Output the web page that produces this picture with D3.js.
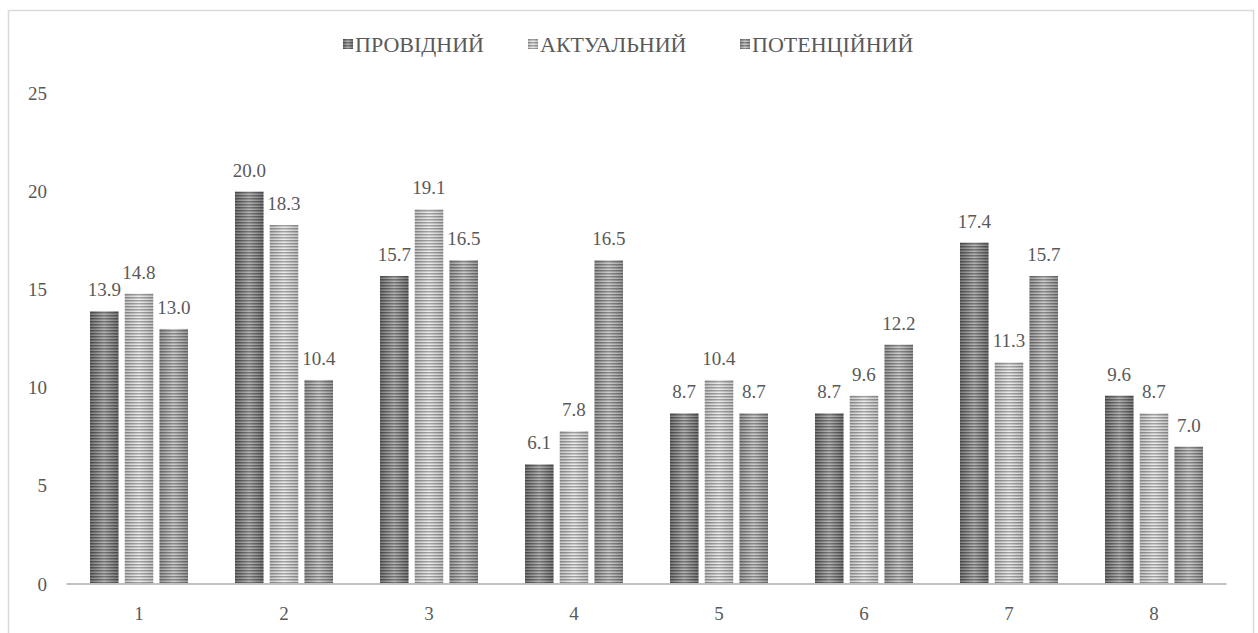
<!DOCTYPE html>
<html>
<head>
<meta charset="utf-8">
<script src="https://cdn.jsdelivr.net/npm/d3@7"></script>
<style>
  html, body { margin: 0; padding: 0; background: #fff; }
  svg { display: block; }
</style>
</head>
<body>
<svg id="chart" width="1258" height="633"></svg>
<script>
// Categories and series values
const categories = ["1", "2", "3", "4", "5", "6", "7", "8"];
const seriesNames = ["ПРОВІДНИЙ", "АКТУАЛЬНИЙ", "ПОТЕНЦІЙНИЙ"];
const providnyi    = [13.9, 20.0, 15.7, 6.1, 8.7, 8.7, 17.4, 9.6];
const aktualnyi    = [14.8, 18.3, 19.1, 7.8, 10.4, 9.6, 11.3, 8.7];
const potentsiynyi = [13.0, 10.4, 16.5, 16.5, 8.7, 12.2, 15.7, 7.0];
const yTicks = [0, 5, 10, 15, 20, 25];

const seriesValues = [providnyi, aktualnyi, potentsiynyi];
const FONT = '"Liberation Serif", monospace';
const TEXT_COLOR = "#595959";

// Shading per series: edge tone, centre tone
const shades = [
  { edge: "#646464", mid: "#a8a8a8" },
  { edge: "#bababa", mid: "#e8e8e8" },
  { edge: "#8a8a8a", mid: "#c4c4c4" }
];

const svg = d3.select("#chart");
const defs = svg.append("defs");

shades.forEach((s, i) => {
  const g = defs.append("linearGradient")
    .attr("id", "grad" + i)
    .attr("x1", "0%").attr("x2", "100%").attr("y1", "0%").attr("y2", "0%");
  g.append("stop").attr("offset", "0%").attr("stop-color", s.edge);
  g.append("stop").attr("offset", "50%").attr("stop-color", s.mid);
  g.append("stop").attr("offset", "100%").attr("stop-color", s.edge);
});

// horizontal stripe texture laid over the gradient
const stripe = defs.append("pattern")
  .attr("id", "stripes")
  .attr("patternUnits", "userSpaceOnUse")
  .attr("width", 10).attr("height", 3);
stripe.append("rect").attr("width", 10).attr("height", 1.5)
  .attr("fill", "#000").attr("fill-opacity", 0.3);
stripe.append("rect").attr("y", 1.5).attr("width", 10).attr("height", 1.5)
  .attr("fill", "#fff").attr("fill-opacity", 0.15);

function styleText(sel, size) {
  sel.style("font-family", FONT)
    .style("font-size", (size || 19) + "px")
    .style("fill", TEXT_COLOR);
}

// outer frame
svg.append("rect")
  .attr("x", 8.5).attr("y", 10.5)
  .attr("width", 1245).attr("height", 640)
  .attr("fill", "none").attr("stroke", "#d9d9d9").attr("stroke-width", 1.5);

const x0 = d3.scaleBand()
  .domain(categories)
  .range([66.5, 1226.5])
  .paddingInner(0.324)
  .paddingOuter(0.162);

const x1 = d3.scaleBand()
  .domain(d3.range(seriesNames.length))
  .range([0, x0.bandwidth()])
  .paddingInner(0.18);

const y = d3.scaleLinear().domain([0, 25]).range([584, 93.5]);

// y tick labels (no axis line, no gridlines)
const yAxis = d3.axisLeft(y).tickValues(yTicks).tickSize(0).tickPadding(0);
const yg = svg.append("g").attr("transform", "translate(47,0)").call(yAxis);
yg.attr("font-family", null);
yg.select(".domain").remove();
yg.selectAll("text").call(styleText, 19);

// bars
const groups = svg.append("g").selectAll("g")
  .data(categories)
  .join("g")
  .attr("transform", d => `translate(${x0(d)},0)`);

groups.each(function(cat, ci) {
  const g = d3.select(this);
  const data = seriesValues.map((vals, si) => ({ si, v: vals[ci] }));
  g.selectAll("rect.base")
    .data(data).join("rect")
    .attr("class", "base")
    .attr("x", d => x1(d.si))
    .attr("y", d => y(d.v))
    .attr("width", x1.bandwidth())
    .attr("height", d => y(0) - y(d.v))
    .attr("fill", d => `url(#grad${d.si})`);
  g.selectAll("rect.tex")
    .data(data).join("rect")
    .attr("class", "tex")
    .attr("x", d => x1(d.si))
    .attr("y", d => y(d.v))
    .attr("width", x1.bandwidth())
    .attr("height", d => y(0) - y(d.v))
    .attr("fill", "url(#stripes)");
  g.selectAll("text.lbl")
    .data(data).join("text")
    .attr("class", "lbl")
    .attr("x", d => x1(d.si) + x1.bandwidth() / 2)
    .attr("y", d => y(d.v) - 15)
    .attr("text-anchor", "middle")
    .call(styleText, 19)
    .text(d => d.v.toFixed(1));
});

// x axis line and category labels
const xAxis = d3.axisBottom(x0).tickSize(0).tickPadding(0);
const xg = svg.append("g").attr("transform", `translate(0,${y(0)})`).call(xAxis);
xg.attr("font-family", null);
xg.select(".domain").attr("stroke", "#c0c0c0").attr("stroke-width", 2)
  .attr("d", `M66.5,0H1226.5`);
xg.selectAll("text")
  .attr("dy", 0).attr("y", 36)
  .call(styleText, 19);

// legend
const legendItems = [
  { name: seriesNames[0], x: 343 },
  { name: seriesNames[1], x: 528 },
  { name: seriesNames[2], x: 740 }
];
const legend = svg.append("g");
legendItems.forEach((it, i) => {
  legend.append("rect")
    .attr("x", it.x).attr("y", 39).attr("width", 10).attr("height", 10)
    .attr("fill", `url(#grad${i})`);
  legend.append("rect")
    .attr("x", it.x).attr("y", 39).attr("width", 10).attr("height", 10)
    .attr("fill", "url(#stripes)");
  legend.append("text")
    .attr("x", it.x + 12).attr("y", 51.5)
    .call(styleText, 22)
    .text(it.name);
});
</script>
</body>
</html>
